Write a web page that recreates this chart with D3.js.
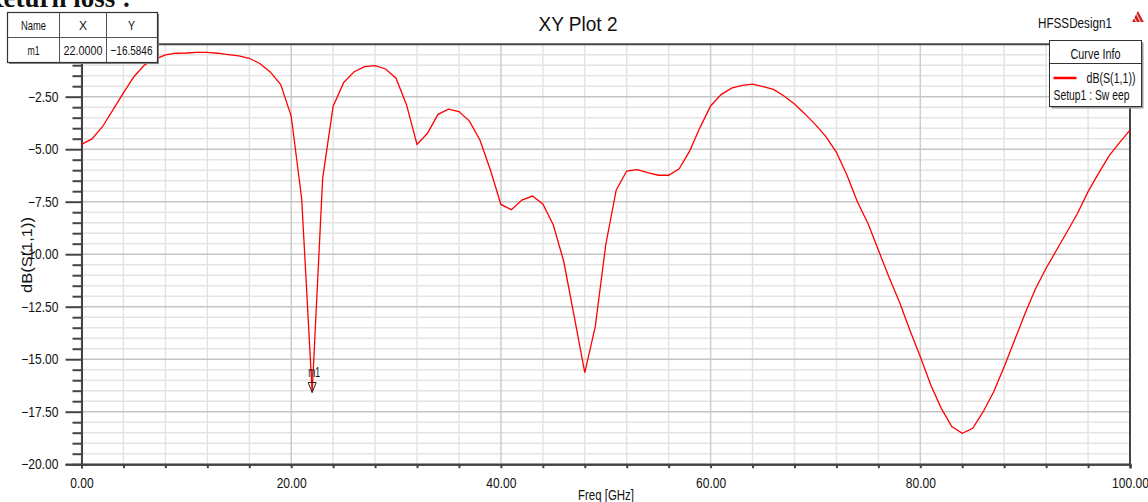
<!DOCTYPE html>
<html><head><meta charset="utf-8">
<script src="https://cdn.jsdelivr.net/npm/d3@7"></script>
<style>
body{margin:0;background:#fff}
svg{display:block}
text{font-family:'Liberation Sans',Arial,sans-serif;fill:#111}
</style>
</head><body><svg id="c" width="1148" height="502"></svg>
<script>
// ---- data ----
const freqGHz = [0,1,2,3,4,5,6,7,8,9,10,11,12,13,14,15,16,17,18,19,20,21,22,23,24,25,26,27,28,29,30,31,32,33,34,35,36,37,38,39,40,41,42,43,44,45,46,47,48,49,50,51,52,53,54,55,56,57,58,59,60,61,62,63,64,65,66,67,68,69,70,71,72,73,74,75,76,77,78,79,80,81,82,83,84,85,86,87,88,89,90,91,92,93,94,95,96,97,98,99,100];
const s11dB = [-4.77,-4.51,-3.93,-3.13,-2.32,-1.55,-0.99,-0.72,-0.51,-0.43,-0.42,-0.39,-0.39,-0.43,-0.50,-0.56,-0.67,-0.92,-1.32,-1.92,
 -3.42,-7.36,-16.5846,-6.39,-2.95,-1.83,-1.31,-1.07,-1.02,-1.18,-1.62,-2.89,-4.77,-4.24,-3.34,-3.09,-3.21,-3.66,-4.56,-5.99,
 -7.63,-7.88,-7.42,-7.23,-7.61,-8.61,-10.36,-12.98,-15.64,-13.45,-9.55,-6.94,-6.04,-5.97,-6.12,-6.24,-6.24,-5.93,-5.09,-3.96,
 -2.94,-2.40,-2.09,-1.96,-1.90,-2.02,-2.15,-2.47,-2.85,-3.32,-3.83,-4.40,-5.15,-6.23,-7.50,-8.53,-9.80,-11.07,-12.26,-13.61,
 -14.88,-16.23,-17.34,-18.21,-18.53,-18.29,-17.50,-16.55,-15.36,-14.09,-12.81,-11.63,-10.67,-9.80,-8.93,-8.05,-7.02,-6.15,-5.32,-4.69,-4.09];
const xMajorTicks = [0,20,40,60,80,100];
const xMinorTicks = [4,8,12,16,24,28,32,36,44,48,52,56,64,68,72,76,84,88,92,96];
const yMajorTicks = [-20,-17.5,-15,-12.5,-10,-7.5,-5,-2.5];
const yMinorTicks = [-19.5,-19,-18.5,-18,-17,-16.5,-16,-15.5,-14.5,-14,-13.5,-13,-12,-11.5,-11,-10.5,-9.5,-9,-8.5,-8,-7,-6.5,-6,-5.5,-4.5,-4,-3.5,-3,-2,-1.5,-1,-0.5];
const markerName = "m1", markerX = 22.0, markerY = -16.5846;
const title = "XY Plot 2", design = "HFSSDesign1";
const seriesName = "dB(S(1,1))", seriesSetup = "Setup1 : Sw eep";

// ---- helpers ----
function narrow(sel, k){
  sel.each(function(){
    const w = this.getComputedTextLength();
    if (w > 0) d3.select(this).attr("textLength", w*k).attr("lengthAdjust","spacingAndGlyphs");
  });
  return sel;
}
function fit(sel, w){ return sel.attr("textLength", w).attr("lengthAdjust","spacingAndGlyphs"); }

// ---- layout ----
const svg = d3.select("#c");
const L = 81.5, R = 1130, T = 44.2, B = 464.2;
const x = d3.scaleLinear().domain([0,100]).range([L,R]);
const y = d3.scaleLinear().domain([-20,0]).range([B,T]);

// cut-off heading text
svg.append("text").attr("x",-16).attr("y",7).text("Return loss :")
  .style("font-family","'Liberation Serif','Times New Roman',serif").style("font-weight","bold").style("font-size","27px");

// grid
const g = svg.append("g");
g.selectAll(".vmin").data(xMinorTicks).join("line")
  .attr("x1",d=>x(d)).attr("x2",d=>x(d)).attr("y1",T).attr("y2",B)
  .attr("stroke","#e4e4e4").attr("stroke-width",1.5);
g.selectAll(".hmin").data(yMinorTicks).join("line")
  .attr("x1",L).attr("x2",R).attr("y1",d=>y(d)).attr("y2",d=>y(d))
  .attr("stroke","#e4e4e4").attr("stroke-width",1.5);
g.selectAll(".vmaj").data(xMajorTicks).join("line")
  .attr("x1",d=>x(d)).attr("x2",d=>x(d)).attr("y1",T).attr("y2",B)
  .attr("stroke","#cdcdcd").attr("stroke-width",1.5);
g.selectAll(".hmaj").data(yMajorTicks).join("line")
  .attr("x1",L).attr("x2",R).attr("y1",d=>y(d)).attr("y2",d=>y(d))
  .attr("stroke","#c4c4c4").attr("stroke-width",1.5);

// frame
svg.append("line").attr("x1",L).attr("x2",R).attr("y1",T).attr("y2",T).attr("stroke","#444").attr("stroke-width",2);
svg.append("line").attr("x1",R).attr("x2",R).attr("y1",T).attr("y2",B).attr("stroke","#444").attr("stroke-width",2);

// axes
const yMinorAxis = d3.axisLeft(y).tickValues(yMinorTicks).tickSize(9).tickFormat("");
const yMajorAxis = d3.axisLeft(y).tickValues(yMajorTicks).tickSize(16).tickPadding(7).tickFormat(d3.format(".2f"));
const xMinorAxis = d3.axisBottom(x).tickValues(xMinorTicks).tickSize(4).tickFormat("");
const xMajorAxis = d3.axisBottom(x).tickValues(xMajorTicks).tickSize(4).tickPadding(10).tickFormat(d3.format(".2f"));
function style(sel){
  sel.select(".domain").attr("stroke","#444").attr("stroke-width",2);
  sel.selectAll(".tick line").attr("stroke","#444").attr("stroke-width",2);
  sel.selectAll(".tick text").style("font-size","14px").attr("fill","#111");
  narrow(sel.selectAll(".tick text"), 0.86);
}
svg.append("g").attr("transform",`translate(${L},0)`).call(yMinorAxis).call(style);
svg.append("g").attr("transform",`translate(${L},0)`).call(yMajorAxis).call(style);
svg.append("g").attr("transform",`translate(0,${B})`).call(xMinorAxis).call(style);
svg.append("g").attr("transform",`translate(0,${B})`).call(xMajorAxis).call(style);

// axis titles
fit(svg.append("text").attr("transform","translate(32,255) rotate(-90)").attr("text-anchor","middle")
  .style("font-size","15px").text("dB(S(1,1))"), 76);
fit(svg.append("text").attr("x",606).attr("y",500).attr("text-anchor","middle").style("font-size","14px").text("Freq [GHz]"), 56);

// curve
const pts = freqGHz.map((f,i)=>[f,s11dB[i]]);
svg.append("path").datum(pts)
  .attr("d",d3.line().x(d=>x(d[0])).y(d=>y(d[1])))
  .attr("fill","none").attr("stroke","#ff0000").attr("stroke-width",1.3);

// marker
const mx = x(markerX), my = y(markerY);
svg.append("path").attr("d",`M${mx-4},${my-10} L${mx+4},${my-10} L${mx},${my} Z`)
  .attr("fill","none").attr("stroke","#222").attr("stroke-width",1);
fit(svg.append("text").attr("x",mx+2).attr("y",my-15).attr("text-anchor","middle").style("font-size","14px").text(markerName), 12);

// title
fit(svg.append("text").attr("x",578).attr("y",31).attr("text-anchor","middle").style("font-size","21px").text(title), 79);
fit(svg.append("text").attr("x",1112).attr("y",28).attr("text-anchor","end").style("font-size","15px").text(design), 74);
// logo
const lg = svg.append("g").attr("transform","translate(1138,11)");
lg.append("path").attr("d","M0,0 L6,11 L-6,11 Z").attr("fill","#d42020");
lg.append("path").attr("d","M-1.5,3 L2.5,11 M-4,6.5 L-1.5,11 M1.5,1.5 L6,10").attr("stroke","#fff").attr("stroke-width",0.9);

// legend box
const lgx = 1049.5, lgy = 40.5;
svg.append("rect").attr("x",lgx+2).attr("y",lgy+2).attr("width",92).attr("height",66).attr("fill","#999");
svg.append("rect").attr("x",lgx).attr("y",lgy).attr("width",92).attr("height",66).attr("fill","#fff").attr("stroke","#333").attr("stroke-width",1);
fit(svg.append("text").attr("x",lgx+46).attr("y",lgy+18).attr("text-anchor","middle").style("font-size","14px").text("Curve Info"), 50);
svg.append("line").attr("x1",lgx).attr("x2",lgx+92).attr("y1",lgy+23).attr("y2",lgy+23).attr("stroke","#333").attr("stroke-width",1);
svg.append("line").attr("x1",lgx+4).attr("x2",lgx+27).attr("y1",lgy+37.5).attr("y2",lgy+37.5).attr("stroke","#ff0000").attr("stroke-width",2.5);
fit(svg.append("text").attr("x",lgx+86).attr("y",lgy+42).attr("text-anchor","end").style("font-size","14px").text(seriesName), 49);
fit(svg.append("text").attr("x",lgx+4).attr("y",lgy+59).style("font-size","14px").text(seriesSetup), 76);

// marker table
const tx = 7.5, ty = 12.5, tw = 150, th = 50;
svg.append("rect").attr("x",tx+1.5).attr("y",ty+1.5).attr("width",tw).attr("height",th).attr("fill","#888");
svg.append("rect").attr("x",tx).attr("y",ty).attr("width",tw).attr("height",th).attr("fill","#fff").attr("stroke","#333").attr("stroke-width",1.2);
[59.5,106.5].forEach(cx=>svg.append("line").attr("x1",cx).attr("x2",cx).attr("y1",ty).attr("y2",ty+th).attr("stroke","#555").attr("stroke-width",1));
svg.append("line").attr("x1",tx).attr("x2",tx+tw).attr("y1",37.5).attr("y2",37.5).attr("stroke","#555").attr("stroke-width",1);
const hdr = ["Name","X","Y"], row = [markerName, d3.format(".4f")(markerX), d3.format(".4f")(markerY)];
const hdrW = [25,8,7], rowW = [12,39,42];
const cxs = [33.5,83,131.5];
hdr.forEach((t,i)=>fit(svg.append("text").attr("x",cxs[i]).attr("y",30).attr("text-anchor","middle").style("font-size","13px").text(t), hdrW[i]));
row.forEach((t,i)=>fit(svg.append("text").attr("x",cxs[i]).attr("y",55).attr("text-anchor","middle").style("font-size","13px").text(t), rowW[i]));
</script>
</body></html>
